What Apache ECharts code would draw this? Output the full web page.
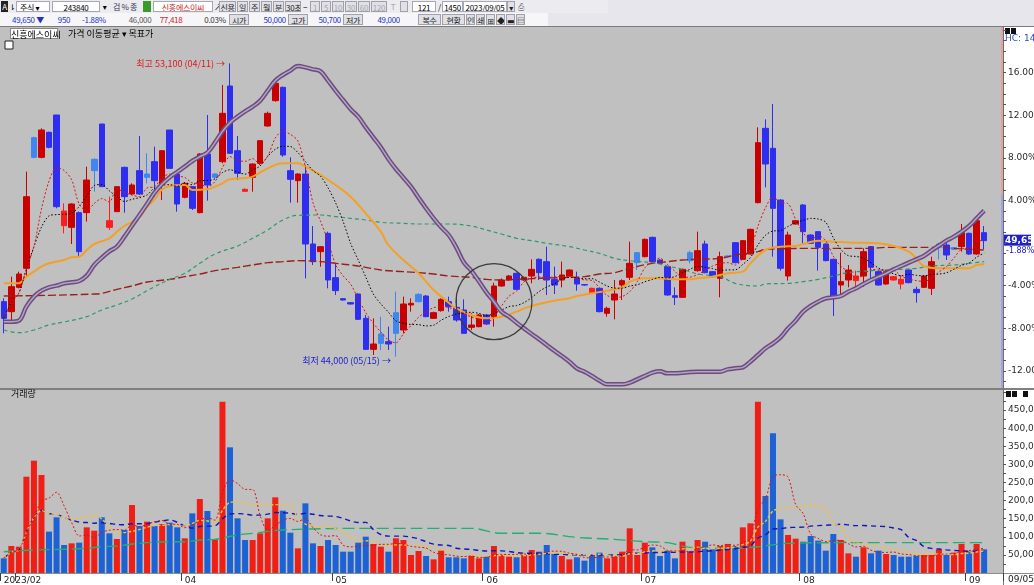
<!DOCTYPE html>
<html>
<head>
<meta charset="utf-8">
<title>신흥에스이씨 일봉</title>
<script src="https://cdn.jsdelivr.net/npm/echarts@6.0.0/dist/echarts.min.js"></script>
<style>
body { margin: 0; width: 1034px; height: 585px; overflow: hidden; background: #fff;
       font-family: "Noto Sans CJK KR", "DejaVu Sans", sans-serif; }
#chart { position: absolute; left: 0; top: 0; width: 1034px; height: 585px; }
#toolbar { position: absolute; left: 0; top: 0; width: 1034px; height: 26px; background: #e6e6ec; z-index: 2; }
.row { position: absolute; left: 0; height: 13px; font-size: 8px; letter-spacing: -0.3px; }
.r1 { top: 0; width: 608px; background: #ececf0; }
.r2 { top: 13px; width: 548px; background: #f6f6f9; }
.row span { position: absolute; top: 1px; height: 11px; line-height: 11px; white-space: nowrap; text-align: center; overflow: hidden; }
.box { background: #fff; border: 1px solid #a8a8b4; box-sizing: border-box; }
.btn { background: #e0e0e6; border: 1px solid #a0a0aa; box-sizing: border-box; color: #222; }
.dis { color: #a8a8b0; }
.blue { color: #2232c8; }
.red { color: #d01818; }
#legend { position: absolute; left: 0; top: 28px; height: 12px; font-size: 9px; z-index: 2; }
#legend span { position: absolute; top: 0; height: 11px; line-height: 11px; white-space: nowrap; }
</style>
</head>
<body>
<div id="chart"></div>
<div id="toolbar">
  <div class="row r1">
    <span style="left:1px;width:7px;background:#222;color:#fff;">A</span>
    <span style="left:9px;width:6px;">⇂</span>
    <span class="box" style="left:16px;width:34px;text-align:left;padding-left:3px;">주식 ▾</span>
    <span class="box" style="left:52px;width:48px;">243840</span>
    <span style="left:101px;width:7px;">▾</span>
    <span style="left:109px;width:32px;color:#335;">검 % 종</span>
    <span style="left:143px;width:8px;background:#3a9a2a;"></span>
    <span class="box red" style="left:153px;width:60px;">신흥에스이씨</span>
    <span style="left:214px;width:6px;">↗</span>
    <span class="btn" style="left:219px;width:17px;">신용</span>
    <span class="btn" style="left:237px;width:11px;">일</span>
    <span class="btn" style="left:249px;width:11px;">주</span>
    <span class="btn" style="left:261px;width:11px;">월</span>
    <span class="btn" style="left:273px;width:11px;">분</span>
    <span class="btn" style="left:285px;width:16px;">30초</span>
    <span style="left:302px;width:6px;">−</span>
    <span class="btn dis" style="left:310px;width:10px;">1</span>
    <span class="btn dis" style="left:321px;width:10px;">5</span>
    <span class="btn dis" style="left:332px;width:12px;">10</span>
    <span class="btn dis" style="left:345px;width:12px;">30</span>
    <span class="btn dis" style="left:358px;width:12px;">60</span>
    <span class="btn dis" style="left:371px;width:16px;">120</span>
    <span class="dis" style="left:389px;width:8px;">T</span>
    <span class="btn dis" style="left:400px;width:8px;"></span>
    <span class="box" style="left:412px;width:24px;">121</span>
    <span style="left:437px;width:5px;">/</span>
    <span class="box" style="left:442px;width:21px;">1450</span>
    <span class="box" style="left:463px;width:44px;">2023/09/05</span>
    <span class="btn" style="left:507px;width:8px;">▾</span>
    <span style="left:516px;width:10px;color:#888;">⎙</span>
  </div>
  <div class="row r2">
    <span class="blue" style="left:8px;width:40px;">49,650 ▼</span>
    <span class="blue" style="left:55px;width:18px;">950</span>
    <span class="blue" style="left:76px;width:36px;">-1.88%</span>
    <span style="left:127px;width:26px;color:#555;">46,000</span>
    <span class="red" style="left:155px;width:32px;">77,418</span>
    <span style="left:203px;width:24px;color:#333;">0.03%</span>
    <span class="btn" style="left:229px;width:20px;">시가</span>
    <span class="blue" style="left:256px;width:30px;text-align:right;">50,000</span>
    <span class="btn" style="left:288px;width:20px;">고가</span>
    <span class="blue" style="left:311px;width:30px;text-align:right;">50,700</span>
    <span class="btn" style="left:343px;width:20px;">저가</span>
    <span class="blue" style="left:368px;width:32px;text-align:right;">49,000</span>
    <span class="btn" style="left:418px;width:23px;">복수</span>
    <span class="btn" style="left:442px;width:23px;">현황</span>
    <span class="btn" style="left:466px;width:9px;">인</span>
    <span class="btn" style="left:476px;width:9px;">쇄</span>
    <span class="btn" style="left:486px;width:9px;">⊞</span>
    <span class="btn" style="left:496px;width:9px;">◆</span>
    <span class="btn" style="left:506px;width:9px;">▬</span>
    <span class="btn" style="left:516px;width:9px;">▤</span>
  </div>
</div>
<div id="legend">
  <span style="left:10px;width:48px;background:#fff;border:1px solid #888;box-sizing:border-box;text-align:center;">신흥에스이씨</span>
  <span style="left:68px;">가격 이동평균</span>
  <span style="left:122px;">▾ 목표가</span>
</div>
<script>
// 거래일 (2023/02/27 ~ 2023/09/05, 휴장일 제외)
var holidays = ['2023/03/01', '2023/05/01', '2023/05/05', '2023/05/29', '2023/06/06', '2023/08/15'];
var dates = [];
(function () {
    var d = new Date(2023, 1, 27), end = new Date(2023, 8, 5);
    while (d <= end) {
        var s = d.getFullYear() + '/' + ('0' + (d.getMonth() + 1)).slice(-2) + '/' + ('0' + d.getDate()).slice(-2);
        if (d.getDay() !== 0 && d.getDay() !== 6 && holidays.indexOf(s) < 0) dates.push(s);
        d.setDate(d.getDate() + 1);
    }
})();

// 일봉 시가/종가/저가/고가
var opens = [45950,45650,46380,46950,50870,50280,51030,51550,48230,48180, 48620,48620,50220,51280,48180,48650,49980,49180,49880,49780,
    50150,49450,51100,49780,49080,49400,48620,50380,49780,50150, 52420,50480,49260,49680,50100,51220,51980,52380,49880,49580,
    49780,47680,47450,48000,46670,46040,45920,46180,45450,44520, 44980,44750,45620,45100,45850,46170,46120,45450,45680,45950,
    45780,45700,45180,45200,45550,45500,46420,46600,46800,46600, 46720,47220,47150,46620,46600,46720,46650,46460,46220,46350,
    45600,46000,46450,46680,47420,47300,47880,47200,47000,46130, 46080,47420,46880,47680,46850,46650,47320,47720,47220,47380,
    48920,51150,50550,49000,46720,48280,48850,47950,48050,47680, 47220,46450,46600,46580,46720,47600,46850,46480,46600,46480,
    46900,46320,46380,46350,47680,47650,47570,47600,48000,47380, 48020];
var closes = [45450,46400,46780,49100,50280,51100,50580,48800,48670,48880, 47450,49600,49880,49400,48380,49400,49100,49450,49180,49680,
    49580,50480,49950,48880,49500,48750,50380,49450,49680,51600, 50400,49800,49320,50080,50780,51600,52500,50350,49620,49780,
    47680,47150,47600,46600,46280,46000,45880,45420,44520,44680, 44700,44680,45000,45880,45900,45950,45500,45620,46020,45800,
    45400,45000,45250,45550,45280,46420,46600,46720,46320,46680, 46920,46820,46600,46450,46750,46900,46480,46450,46350,45650,
    45750,46180,46580,47100,47120,47820,47150,47100,46150,46080, 46920,47180,47480,46820,46700,47300,47300,47120,47780,48120,
    50720,50080,48750,46950,47950,48380,48050,47700,47580,47180, 46050,46550,46900,46720,47450,46980,46450,46850,46700,46620,
    46520,46220,46720,47150,47580,47350,47520,48020,47380,48380, 47780];
var lows = [45000,45350,46350,46700,50250,50250,50550,48750,48000,47680, 47320,48350,49250,49400,48100,48650,48620,49150,49150,49500,
    49100,49000,49950,48650,49050,48700,48600,48980,49650,50100, 50400,49600,49250,49250,50050,51200,51950,50300,48920,48920,
    46650,47050,47000,46350,46150,45980,45860,45400,44500,44350, 44500,44500,44300,45000,45650,45930,45480,45430,45650,45650,
    45350,45000,45100,45180,45250,45200,46400,46580,46300,46580, 46500,46600,46150,46180,46380,46700,46280,46430,46200,45630,
    45500,45420,46000,46600,46900,47280,47130,47080,46130,45850, 46060,47100,46850,46800,46680,46080,47280,47100,47200,47360,
    48900,49380,47300,46880,46580,48260,47700,47680,46880,47160, 45520,46180,46380,46280,46400,46580,46430,46460,46580,46320,
    46500,45920,46360,46150,47220,47200,47500,47450,47350,47360, 47520];
var highs = [46050,46700,46850,49850,50900,51150,51050,51550,48900,48900, 48650,50000,50250,51280,49100,49400,50000,49500,50920,50400,
    50600,50500,51100,49800,49520,49400,50400,51550,49800,52450, 53100,50920,49350,50100,50800,51650,52550,52400,50280,49800,
    50050,48220,47620,48050,47100,46060,45940,46200,45550,45450, 45500,45200,46250,46100,46050,46200,46150,45650,46050,46100,
    46050,46020,45600,45580,45580,46520,46650,46750,46820,46700, 47220,47250,47600,47000,47150,46920,46850,46480,46370,46370,
    45800,46600,46620,47750,47440,47840,47900,47220,47020,46380, 46940,47480,48050,47780,46870,47450,47340,47740,47800,48140,
    51180,51420,51880,49020,48050,48400,48880,47970,48070,47700, 47240,47420,47050,46880,47550,47620,46870,46870,46720,46720,
    46920,46400,46740,47300,47720,47750,47590,48280,48020,48400, 48220];

// 거래량
var volumes = [40500,74600,72700,266000,310300,270700,114200,153800,77300,81900, 83800,126100,116900,153800,109600,93900,118800,187800,129800,141800,
    129800,135300,139000,126100,95800,164800,204400,171300,93000,473200, 347100,151000,91100,91100,109600,151000,209000,172200,111400,68100,
    192400,81900,74600,91100,77300,58900,58900,83800,100400,80100, 72700,58900,95800,91100,49700,60800,47000,37700,61700,43300,
    43300,40500,47000,40500,45100,74600,50000,45100,43300,49700, 63500,58900,77300,52500,47000,37700,43300,34100,47000,56200,
    40500,45100,58900,123400,49700,83800,70900,47000,61700,40500, 86500,58900,91100,86500,65400,74600,80100,74600,126100,137200,
    473200,212700,385800,148200,105000,94800,86500,102200,89300,61700, 107700,91100,54300,45100,70900,54300,61700,52500,49700,45100,
    45100,47000,49700,49700,65400,49700,56200,80100,58900,80100, 65400];

// 보라색 지표선 (가격 축 기준으로 읽은 값)
var purpleLine = [45350,45350,45380,45800,46100,46280,46380,46430,46500,46530, 46570,46730,47050,47270,47460,47600,47900,48230,48550,48880,
    49220,49480,49680,49840,50000,50170,50300,50420,50720,51060, 51320,51500,51660,51800,51980,52280,52580,52750,52880,53020,
    52980,52920,52860,52580,52280,52000,51720,51500,51180,50880, 50580,50230,49930,49670,49400,49070,48750,48450,48180,47950,
    47580,47130,46880,46560,46230,45950,45650,45500,45320,45150, 44980,44820,44650,44480,44320,44150,43950,43850,43720,43580,
    43470,43470,43470,43520,43620,43720,43820,43860,43800,43800, 43820,43840,43850,43850,43850,43850,43920,43950,43980,44150,
    44350,44550,44700,44880,45150,45380,45650,45820,45950,46050, 46080,46120,46250,46350,46480,46600,46700,46800,46920,47020,
    47120,47220,47320,47480,47630,47780,47900,48050,48220,48450, 48680];

// 20/60/120일 이동평균 (그림에서 읽은 [봉 번호, 값])
var ma20Pts = [[0,46500],[2,46500],[3,46700],[4,46850],[5,47000],[6,47100],[8,47200],[9,47280],[10,47300],[11,47500],[12,47680],
    [14,47850],[15,48050],[16,48220],[18,48480],[19,48800],[20,49020],[21,49320],[22,49420],[24,49450],[25,49300],[27,49320],
    [28,49400],[29,49500],[30,49620],[32,49660],[33,49700],[35,49950],[37,50100],[39,50100],[40,50000],[42,49750],[44,49450],
    [46,49100],[48,48600],[50,48050],[51,47650],[53,47200],[55,46800],[57,46300],[59,45920],[60,45750],[62,45550],[64,45450],
    [66,45500],[68,45650],[69,45750],[71,45880],[73,45980],[75,46050],[76,46120],[78,46200],[80,46280],[82,46380],[83,46550],
    [85,46650],[87,46650],[89,46620],[91,46620],[92,46650],[94,46700],[96,46800],[98,46850],[99,47100],[101,47500],[103,47600],
    [105,47620],[106,47680],[108,47780],[110,47750],[113,47720],[114,47720],[116,47700],[118,47620],[120,47450],[121,47250],
    [122,47020],[124,46950],[126,46950],[128,46950],[129,47050],[130,47070]];
var ma60Pts = [[0,45100],[2,45020],[4,45100],[6,45250],[8,45340],[11,45500],[13,45700],[15,45850],[17,46030],[19,46280],[22,46620],
    [24,46800],[26,47100],[28,47380],[31,47620],[33,47850],[35,48100],[37,48400],[39,48540],[42,48550],[44,48500],[46,48450],
    [48,48400],[50,48330],[53,48300],[55,48280],[57,48280],[59,48280],[62,48220],[64,48100],[66,47980],[68,47850],[70,47780],
    [72,47700],[75,47600],[77,47500],[79,47400],[81,47250],[83,47180],[86,47120],[88,47020],[90,46920],[92,46780],[95,46700],
    [97,46500],[100,46420],[101,46480],[104,46500],[106,46550],[108,46620],[110,46720],[112,46820],[115,46880],[117,46900],
    [119,46920],[121,46950],[123,47020],[126,47050],[128,47100],[130,47150]];
var ma120Pts = [[0,46120],[6,46140],[12,46180],[13,46200],[15,46320],[17,46420],[19,46540],[22,46620],[24,46700],[26,46780],
    [28,46880],[31,46980],[33,47050],[35,47120],[37,47150],[39,47180],[42,47150],[44,47100],[46,47050],[48,46980],[50,46900],
    [53,46850],[55,46820],[57,46780],[59,46720],[62,46680],[64,46620],[66,46600],[68,46620],[70,46640],[72,46660],[75,46680],
    [77,46700],[79,46780],[81,46820],[83,46950],[86,47100],[88,47150],[90,47200],[92,47220],[95,47250],[97,47350],[100,47450],
    [101,47520],[104,47540],[106,47550],[110,47550],[115,47550],[117,47580],[123,47580],[126,47550],[128,47520],[130,47500]];
// 거래량 60일 이동평균
var volMa60Pts = [[0,58900],[4,63500],[8,65400],[11,68100],[13,72700],[15,74600],[17,80100],[19,83800],[22,86500],[24,86500],
    [26,91100],[28,93000],[31,105000],[33,109600],[37,118800],[48,123400],[62,123400],[66,109600],[71,109600],[76,98500],
    [81,93000],[85,86500],[88,83800],[91,70900],[97,68100],[100,72700],[104,81900],[112,83800],[130,83800]];

// 오른쪽 % 눈금 (기준가와 1%당 폭, 화면 눈금에 맞춤)
var basePrice = 47710, pctUnit = 319.5;
var pctLabels = [16, 12, 8, 4, -4, -8, -12];
var volLabels = [50000, 100000, 150000, 200000, 250000, 300000, 350000, 400000, 450000];
var priceMin = 43360, priceMax = 54190, volMax = 505500;
var rightPad = 2;   // 마지막 봉 오른쪽 빈 칸 수
var highText = '최고 53,100 (04/11) →', lowText = '최저 44,000 (05/15) →';
var lastText = '49,650', lastRate = '-1.88%', lastDate = '09/05';
var circleAt = { idx: 65, price: 45950 };

function movingAverage(src, n) {
    var out = [];
    for (var i = 0; i < src.length; i++) {
        var from = Math.max(0, i - n + 1), sum = 0;
        for (var j = from; j <= i; j++) sum += src[j];
        out.push(Math.round(sum / (i - from + 1)));
    }
    return out;
}

function candleColor(i) {
    var prev = i > 0 ? closes[i - 1] : opens[i];
    if (closes[i] >= opens[i]) return closes[i] >= prev ? '#c80000' : '#ff1c1c';
    return closes[i] < prev ? '#2e2ef0' : '#3f86ee';
}

function lineSeries(data, color, width, dash, axis, smooth) {
    return {
        type: 'line', data: data, xAxisIndex: axis, yAxisIndex: axis,
        showSymbol: false, symbol: 'none', smooth: smooth || false, silent: true,
        lineStyle: { color: color, width: width, type: dash || 'solid' }
    };
}

var candleData = [], volData = [], monthStart = [];
for (var i = 0; i < dates.length; i++) {
    var col = candleColor(i);
    candleData.push({
        value: [opens[i], closes[i], lows[i], highs[i]],
        itemStyle: { color: col, color0: col, borderColor: col, borderColor0: col, borderColorDoji: col, borderWidth: 1 }
    });
    var up = i > 0 ? closes[i] >= closes[i - 1] : closes[i] >= opens[i];
    volData.push({ value: volumes[i], itemStyle: { color: up ? '#f01e14' : '#1c62d4' } });
    monthStart.push(i === 0 || dates[i].slice(5, 7) !== dates[i - 1].slice(5, 7));
}
var axisDates = dates.slice();
for (var k = 0; k < rightPad; k++) axisDates.push('');

var hiIdx = highs.indexOf(Math.max.apply(null, highs));
var loIdx = lows.indexOf(Math.min.apply(null, lows));
var pctTicks = [];
for (var p = -13; p <= 20; p++) pctTicks.push(basePrice + p * pctUnit);
var volTicks = [];
for (var v = 25000; v < volMax; v += 25000) volTicks.push(v);

var chart = echarts.init(document.getElementById('chart'));
chart.setOption({
    animation: false,
    backgroundColor: '#ffffff',
    textStyle: { fontFamily: '"DejaVu Sans", "Noto Sans CJK KR", sans-serif' },
    grid: [
        { left: 0, top: 27, width: 1003, height: 361, show: true, backgroundColor: '#c0c0c0', borderWidth: 0,
          containLabel: false, outerBoundsMode: 'none' },
        { left: 0, top: 390, width: 1003, height: 183, show: true, backgroundColor: '#c0c0c0', borderWidth: 0,
          containLabel: false, outerBoundsMode: 'none' }
    ],
    xAxis: [
        { type: 'category', gridIndex: 0, data: axisDates, boundaryGap: true, show: false },
        {
            type: 'category', gridIndex: 1, data: axisDates, boundaryGap: true,
            axisLine: { show: true, lineStyle: { color: '#8c8c8c', width: 1 } },
            axisTick: { show: true, length: 8, interval: function (idx) { return !!monthStart[idx]; }, lineStyle: { color: '#404040' } },
            axisLabel: {
                show: true, interval: function (idx) { return !!monthStart[idx]; }, align: 'left', margin: 3,
                showMinLabel: true, hideOverlap: false,
                fontSize: 9, color: '#222', fontFamily: 'DejaVu Sans',
                formatter: function (val, idx) {
                    if (!dates[idx]) return '';
                    return idx === 0 ? dates[idx].slice(0, 7) : dates[idx].slice(5, 7);
                }
            },
            splitLine: { show: false }
        }
    ],
    yAxis: [
        {
            type: 'value', gridIndex: 0, position: 'right', min: priceMin, max: priceMax, scale: true,
            splitLine: { show: false },
            axisLine: { show: true, lineStyle: { color: '#707070' } },
            axisTick: { show: true, length: 3, customValues: pctTicks, lineStyle: { color: '#555' } },
            axisLabel: {
                show: true, margin: 5, fontSize: 9, color: '#2a2a2a', fontFamily: 'DejaVu Sans',
                customValues: pctLabels.map(function (q) { return basePrice + q * pctUnit; }),
                formatter: function (val) { return Math.round((val - basePrice) / pctUnit).toFixed(2) + '%'; }
            }
        },
        {
            type: 'value', gridIndex: 1, position: 'right', min: 0, max: volMax,
            splitLine: { show: false },
            axisLine: { show: true, lineStyle: { color: '#707070' } },
            axisTick: { show: true, length: 3, customValues: volTicks, lineStyle: { color: '#555' } },
            axisLabel: {
                show: true, margin: 5, fontSize: 9, color: '#2a2a2a', fontFamily: 'DejaVu Sans',
                customValues: volLabels,
                formatter: function (val) { return echarts.format.addCommas(val); }
            }
        }
    ],
    series: [
        {
            type: 'candlestick', xAxisIndex: 0, yAxisIndex: 0, barWidth: 6, data: candleData, silent: true
        },
        lineSeries(ma120Pts, '#98201c', 1.4, [8, 3], 0, 0.4),
        lineSeries(ma60Pts, '#2f9a68', 1.2, [4, 3], 0, 0.4),
        lineSeries(ma20Pts, '#f4a024', 2, 'solid', 0, 0.4),
        lineSeries(movingAverage(closes, 10), '#000000', 1, [1.5, 2], 0, 0.3),
        lineSeries(movingAverage(closes, 5), '#e01010', 1, [2, 2], 0, 0.3),
        lineSeries(purpleLine, '#6c4c7e', 4.5, 'solid', 0, 0.4),
        (function () {
            var s = lineSeries(purpleLine, '#b4a4c6', 1.5, 'solid', 0, 0.4);
            s.markPoint = {
                silent: true, animation: false,
                data: [
                    { coord: [hiIdx, highs[hiIdx]], symbol: 'circle', symbolSize: 0,
                      label: { show: true, position: 'left', distance: 5, formatter: highText, color: '#e01818', fontSize: 9, fontFamily: 'Noto Sans CJK KR' } },
                    { coord: [loIdx, lows[loIdx]], symbol: 'circle', symbolSize: 0,
                      label: { show: true, position: 'left', distance: 5, offset: [0, 4], formatter: lowText, color: '#1a24c8', fontSize: 9, fontFamily: 'Noto Sans CJK KR' } },
                    { coord: [circleAt.idx, circleAt.price], symbol: 'circle', symbolSize: 76,
                      itemStyle: { color: 'rgba(0,0,0,0)', borderColor: '#3a3a3a', borderWidth: 1.2 }, label: { show: false } }
                ]
            };
            return s;
        })(),
        { type: 'bar', xAxisIndex: 1, yAxisIndex: 1, barWidth: 6, data: volData, silent: true },
        lineSeries(volMa60Pts, '#22b070', 1.4, [12, 5], 1, 0.4),
        lineSeries(movingAverage(volumes, 20), '#1414b8', 1.4, [5, 4], 1, 0.3),
        lineSeries(movingAverage(volumes, 10), '#f2c040', 1.4, [3, 2], 1, 0.3),
        lineSeries(movingAverage(volumes, 5), '#e01010', 1, [2, 2], 1, 0.3)
    ]
});

// 오른쪽 축 장식과 현재가 표시
var lastIdx = closes.length - 1;
var tagY = chart.convertToPixel({ yAxisIndex: 0 }, closes[lastIdx]);
var pinkEnd = chart.convertToPixel({ yAxisIndex: 0 }, basePrice + 4.5 * pctUnit);
chart.setOption({
    graphic: [
        { type: 'rect', silent: true, shape: { x: 0, y: 26, width: 1034, height: 1 }, style: { fill: '#7c7c7c' } },
        { type: 'rect', silent: true, shape: { x: 0, y: 388, width: 1034, height: 2 }, style: { fill: '#808080' } },
        { type: 'rect', silent: true, shape: { x: 1003, y: 573, width: 31, height: 1 }, style: { fill: '#8c8c8c' } },
        { type: 'rect', silent: true, shape: { x: 1003, y: 27, width: 1, height: 558 }, style: { fill: '#777' } },
        { type: 'rect', silent: true, shape: { x: 1001, y: 27, width: 2.5, height: pinkEnd - 27 }, style: { fill: '#e0a2a2' } },
        { type: 'rect', silent: true, shape: { x: 1001, y: pinkEnd, width: 2.5, height: 388 - pinkEnd }, style: { fill: '#a2a2e2' } },
        { type: 'rect', silent: true, shape: { x: 5, y: 41, width: 8, height: 8 }, style: { fill: '#fff', stroke: '#222', lineWidth: 1 } },
        { type: 'rect', silent: true, shape: { x: 1005, y: 28, width: 5, height: 6 }, style: { fill: '#111' } },
        { type: 'rect', silent: true, shape: { x: 1011, y: 28, width: 5, height: 6 }, style: { fill: '#111' } },
        { type: 'text', silent: true, x: 1005, y: 39, style: { text: 'HC: 14.3', fill: '#3050c0', fontSize: 9, fontFamily: 'DejaVu Sans', verticalAlign: 'middle' } },
        { type: 'rect', silent: true, shape: { x: 1006, y: 391, width: 5, height: 6 }, style: { fill: '#111' } },
        { type: 'rect', silent: true, shape: { x: 1012, y: 391, width: 5, height: 6 }, style: { fill: '#111' } },
        { type: 'rect', silent: true, shape: { x: 1023, y: 391, width: 5, height: 6 }, style: { fill: '#111' } },
        { type: 'text', silent: true, x: 11, y: 394, style: { text: '거래량', fill: '#111', fontSize: 9, fontFamily: 'Noto Sans CJK KR', verticalAlign: 'middle' } },
        { type: 'rect', silent: true, shape: { x: 1004, y: tagY - 6, width: 27, height: 11 }, style: { fill: '#1e22c8' } },
        { type: 'text', silent: true, x: 1005, y: tagY, style: { text: lastText, fill: '#fff', fontSize: 9, fontWeight: 'bold', fontFamily: 'DejaVu Sans', verticalAlign: 'middle' } },
        { type: 'text', silent: true, x: 1006, y: tagY + 10, style: { text: lastRate, fill: '#1e22c8', fontSize: 8, fontFamily: 'DejaVu Sans', verticalAlign: 'middle' } },
        { type: 'text', silent: true, x: 1008, y: 580, style: { text: lastDate, fill: '#222', fontSize: 9, fontFamily: 'DejaVu Sans', verticalAlign: 'middle' } }
    ]
});
</script>
</body>
</html>
